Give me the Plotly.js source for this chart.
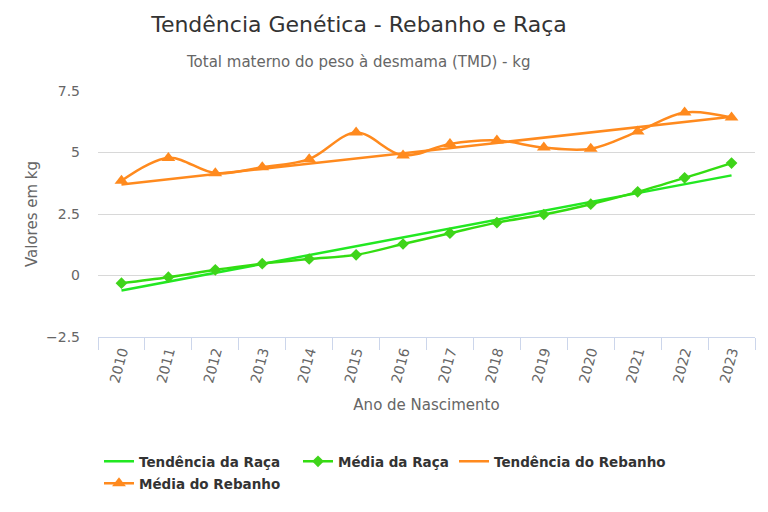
<!DOCTYPE html>
<html>
<head>
<meta charset="utf-8">
<script src="https://cdn.plot.ly/plotly-3.0.1.min.js"></script>
<style>html,body{margin:0;padding:0;background:#fff}#chart{width:768px;height:512px}</style>
</head>
<body>
<div id="chart"></div>
<script>
var years = ["2010","2011","2012","2013","2014","2015","2016","2017","2018","2019","2020","2021","2022","2023"];
var mediaRaca = [-0.31,-0.07,0.23,0.48,0.67,0.84,1.28,1.72,2.15,2.48,2.9,3.4,3.97,4.57];
var tendRacaEnds = [-0.61,4.07];
var mediaRebanho = [3.85,4.78,4.16,4.4,4.73,5.81,4.88,5.35,5.49,5.2,5.15,5.85,6.63,6.42];
var tendRebanhoEnds = [3.7,6.45];
var yTicks = [-2.5,0,2.5,5,7.5];
var yTickLabels = ["−2.5","0","2.5","5","7.5"];

function linear(ends, n){
  var out=[]; for(var i=0;i<n;i++){ out.push(ends[0]+(ends[1]-ends[0])*i/(n-1)); } return out;
}
var tendRaca = linear(tendRacaEnds, years.length);
var tendRebanho = linear(tendRebanhoEnds, years.length);

var font = "DejaVu Sans, Verdana, sans-serif";
var traces = [
  {x: years, y: tendRaca, name: "Tendência da Raça", mode: "lines", line: {color: "#22e822", width: 2.5}, legend: "legend"},
  {x: years, y: mediaRaca, name: "Média da Raça", mode: "lines+markers", line: {color: "#33dd11", width: 2.5, shape: "spline"},
   marker: {symbol: "diamond", size: 9, color: "#3fd41a"}, legend: "legend2"},
  {x: years, y: tendRebanho, name: "Tendência do Rebanho", mode: "lines", line: {color: "#ff8a1e", width: 2.5}, legend: "legend3"},
  {x: years, y: mediaRebanho, name: "Média do Rebanho", mode: "lines+markers", line: {color: "#ff8a1e", width: 2.5, shape: "spline"},
   marker: {symbol: "triangle-up", size: 12, color: "#ff8a1e"}, legend: "legend4"}
];

var legFont = {family: font, size: 13.5, color: "#333", weight: "bold"};
function leg(px, topPx){
  return {orientation: "h", x: (px-98)/657, xanchor: "left", y: (337-topPx)/246, yanchor: "top",
          font: legFont, itemwidth: 30, bgcolor: "rgba(0,0,0,0)"};
}
var layout = {
  width: 768, height: 512,
  margin: {l: 98, r: 13, t: 91, b: 175},
  paper_bgcolor: "#fff", plot_bgcolor: "#fff",
  font: {family: font, color: "#666", size: 13},
  title: {text: "Tendência Genética - Rebanho e Raça", font: {family: font, size: 22, color: "#333"},
          x: 359/768, xref: "container", xanchor: "center", y: 1-24/512, yref: "container", yanchor: "middle"},
  annotations: [{text: "Total materno do peso à desmama (TMD) - kg", xref: "paper", yref: "paper",
                 x: (358-98)/657, y: (337-62)/246, xanchor: "center", yanchor: "middle", showarrow: false,
                 font: {family: font, size: 15, color: "#666"}}],
  xaxis: {type: "category", range: [-0.5, 13.5], showgrid: false, showline: true, linecolor: "#ccd6eb", linewidth: 1,
          ticks: "outside", tickson: "boundaries", ticklen: 12, tickcolor: "#ccd6eb", tickangle: -75,
          tickfont: {size: 14, color: "#666"}, zeroline: false,
          title: {text: "Ano de Nascimento", font: {size: 15, color: "#666"}, standoff: 15}},
  yaxis: {range: [-2.5, 7.5], tickvals: yTicks, ticktext: yTickLabels, showgrid: true, gridcolor: "#d8d8d8",
          zeroline: false, showline: false, ticks: "", ticklabelstandoff: 17, tickfont: {size: 14, color: "#666"},
          title: {text: "Valores em kg", font: {size: 15, color: "#666"}, standoff: 4}},
  showlegend: true,
  legend: leg(99, 446),
  legend2: leg(298, 446),
  legend3: leg(454, 446),
  legend4: leg(99, 468)
};
Plotly.newPlot("chart", traces, layout, {displayModeBar: false, staticPlot: true});
</script>
</body>
</html>
